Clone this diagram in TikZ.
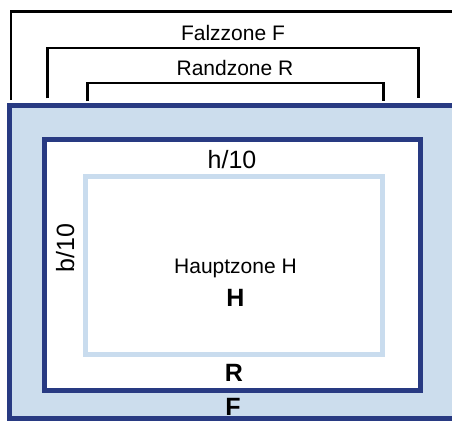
\documentclass[tikz,border=0pt]{standalone}
\usepackage{fontspec}
\setmainfont{Liberation Sans}
\begin{document}
\begin{tikzpicture}[x=1pt,y=-1pt,
  navy/.style={draw=navyc,line width=5pt},
  bracket/.style={draw=black,line width=2.6pt},
  lbl/.style={inner sep=0pt,anchor=base,font=\fontsize{21}{24}\selectfont},
  biglbl/.style={inner sep=0pt,anchor=base,font=\fontsize{25}{28}\selectfont},
  boldlbl/.style={inner sep=0pt,anchor=base,font=\fontsize{25}{28}\selectfont\bfseries}]
\definecolor{navyc}{HTML}{283A82}
\definecolor{lightc}{HTML}{CCDDED}
\definecolor{hauptc}{HTML}{C9DCEE}
\useasboundingbox (0,0) rectangle (452,421);
% outer Falzzone box
\fill[lightc] (9.5,105.5) rectangle (456,418.5);
\draw[navy] (9.5,105.5) rectangle (456,418.5);
% Randzone box
\filldraw[navy,fill=white] (44.7,139.5) rectangle (420.5,390.5);
% Hauptzone box
\draw[draw=hauptc,line width=5pt] (85,176) rectangle (382.5,354.5);
% brackets
\coordinate (f1) at (11,100);
\coordinate (f2) at (11,11.3);
\coordinate (f3) at (470,11.3);
\coordinate (r1) at (47.5,98.3);
\coordinate (r2) at (47.5,48);
\coordinate (r3) at (418.5,48);
\coordinate (r4) at (418.5,98.3);
\coordinate (h1) at (87.3,101);
\coordinate (h2) at (87.3,83);
\coordinate (h3) at (383.5,83);
\coordinate (h4) at (383.5,101);
\draw[bracket] (f1) -- (f2) -- (f3);
\draw[bracket] (r1) -- (r2) -- (r3) -- (r4);
\draw[bracket] (h1) -- (h2) -- (h3) -- (h4);
% labels
\node[lbl] (falz) at (233,40) {Falzzone F};
\node[lbl] (rand) at (235,75) {Randzone R};
\node[biglbl] (hten) at (232,168) {h/10};
\node[biglbl,rotate=90] (bten) at (74,248) {b/10};
\node[lbl] (haupt) at (235.5,273) {Hauptzone H};
\node[boldlbl] (hb) at (235.5,306) {H};
\node[boldlbl] (rb) at (234,381) {R};
\node[boldlbl] (fb) at (233,415) {F};
\end{tikzpicture}
\end{document}
